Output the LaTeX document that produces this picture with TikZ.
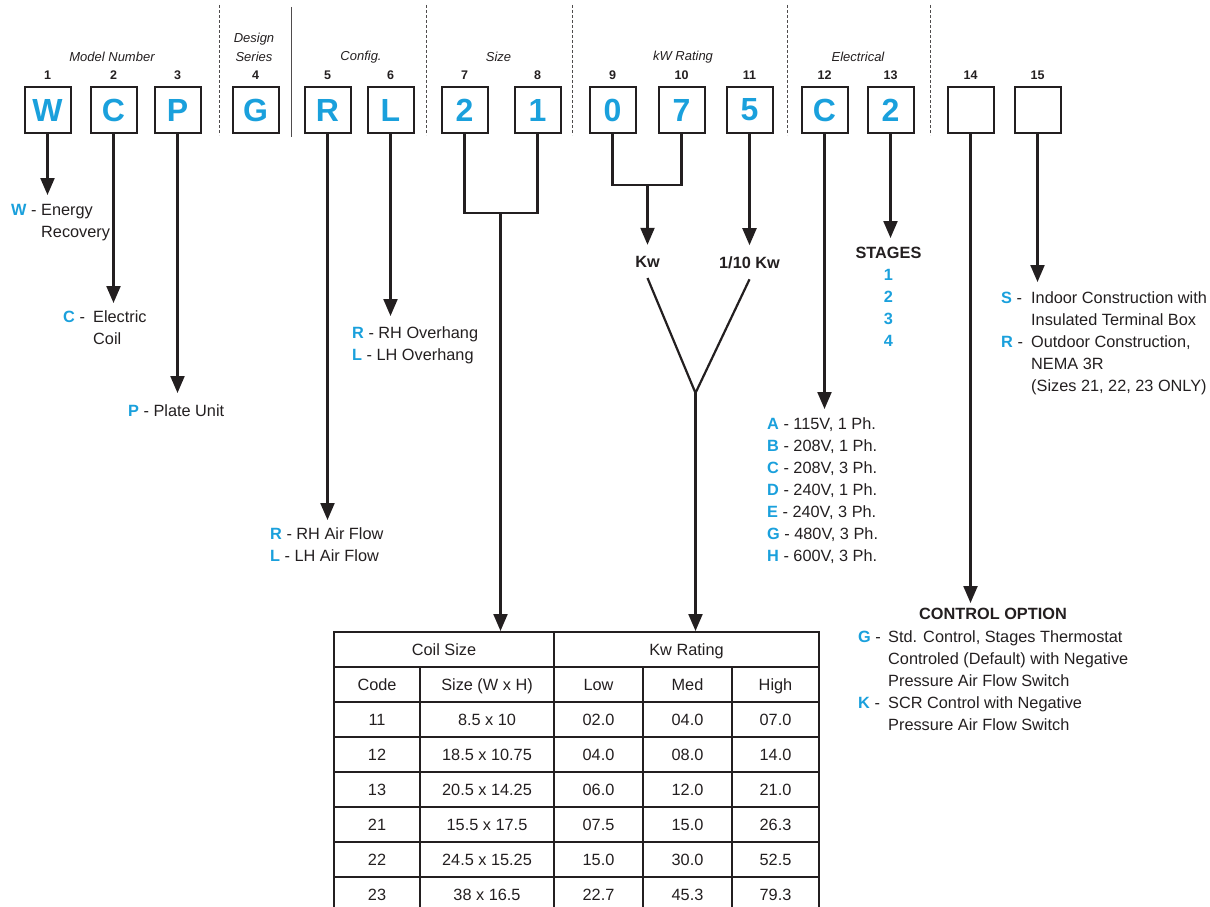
\documentclass[tikz,border=0pt]{standalone}
\usepackage{fontspec}
\setmainfont{Liberation Sans}
\usepackage{tikz}
\usetikzlibrary{arrows.meta}
\definecolor{wcpBlue}{HTML}{1AA0DC}
\definecolor{wcpInk}{HTML}{231F20}
\newcommand{\opt}[1]{\textcolor{wcpBlue}{\bfseries #1}}
\newcommand{\optkey}[1]{\makebox[30pt][l]{\opt{#1}\ -}}
\newcommand{\optpad}{\hspace*{30pt}}
\tikzset{
  codebox/.style={draw=wcpInk,line width=2pt,minimum size=46pt,inner sep=0pt,text=wcpBlue,
                  font=\fontsize{32}{32}\selectfont\bfseries},
  posnum/.style={font=\fontsize{12.5}{14}\selectfont\bfseries,text=wcpInk,inner sep=0pt},
  grplbl/.style={font=\fontsize{13}{19}\selectfont\itshape,text=wcpInk,align=center,inner sep=0pt},
  sepdash/.style={draw=wcpInk!80,line width=0.9pt,dash pattern=on 3pt off 2pt},
  sepline/.style={draw=wcpInk!80,line width=1pt},
  link/.style={draw=wcpInk,line width=2.2pt},
  flow/.style={link,-{Triangle[width=14pt,length=17pt]}},
  desc/.style={font=\fontsize{16.3}{22}\selectfont,text=wcpInk,inner sep=0pt,anchor=base west},
  head/.style={font=\fontsize{16.3}{22}\selectfont\bfseries,text=wcpInk,inner sep=0pt,anchor=base},
  ratelbl/.style={head,outer ysep=11pt},
  cell/.style={draw=wcpInk,line width=2pt,minimum height=35pt,inner sep=0pt,text height=12pt,
               text depth=0.5pt,font=\fontsize{16.3}{18}\selectfont,text=wcpInk},
}
\begin{document}
\begin{tikzpicture}[x=1pt,y=-1pt]
  \useasboundingbox (0,0) rectangle (1210,907);
  \clip (0,0) rectangle (1210,907);

  % code boxes and their positions
  \foreach \n/\x/\c in {1/47.5/W,2/113.5/C,3/177.5/P,4/255.5/G,5/327.5/R,6/390.5/L,7/464.5/2,8/537.5/1,
                        9/612.5/0,10/681.5/7,11/749.5/5,12/824.5/C,13/890.5/2,14/970.5/{},15/1037.5/{}}{
    \node[codebox] (b\n) at (\x,110) {\c};
    \node[posnum] (n\n) at (\x,75) {\n};
  }
  \node[grplbl] (gModel) at (112,57) {Model Number};
  \node[grplbl] (gSeries) at (254,47.5) {Design\\Series};
  \node[grplbl] (gConfig) at (361,57) {Config.};
  \node[grplbl] (gSize) at (498.5,57) {Size};
  \node[grplbl] (gRate) at (683,57) {kW Rating};
  \node[grplbl] (gElec) at (858,57) {Electrical};

  \foreach \x in {219,426,572,787,930}{\draw[sepdash] (\x,5) -- (\x,135);}
  \draw[sepline] (291,7) -- (291,137);

  % option texts
  \node[desc] (dW) at (11,215) {\begin{tabular}[t]{@{}l@{}}\optkey{W}Energy\\\optpad Recovery\end{tabular}};
  \node[desc] (dC) at (63,322) {\begin{tabular}[t]{@{}l@{}}\optkey{C}Electric\\\optpad Coil\end{tabular}};
  \node[desc] (dP) at (128,416) {\opt{P} - Plate Unit};
  \node[desc] (dAir) at (270,539) {\begin{tabular}[t]{@{}l@{}}\opt{R} - RH Air Flow\\\opt{L} - LH Air Flow\end{tabular}};
  \node[desc] (dOver) at (352,338) {\begin{tabular}[t]{@{}l@{}}\opt{R} - RH Overhang\\\opt{L} - LH Overhang\end{tabular}};
  \node[ratelbl] (kw) at (647.5,267) {Kw};
  \node[ratelbl] (tenth) at (749.5,268) {1/10 Kw};
  \node[desc] (dElec) at (767,429) {\begin{tabular}[t]{@{}l@{}}\opt{A} - 115V, 1 Ph.\\\opt{B} - 208V, 1 Ph.\\
        \opt{C} - 208V, 3 Ph.\\\opt{D} - 240V, 1 Ph.\\\opt{E} - 240V, 3 Ph.\\\opt{G} - 480V, 3 Ph.\\
        \opt{H} - 600V, 3 Ph.\end{tabular}};
  \node[head] (dStage) at (888.5,258) {\begin{tabular}[t]{@{}c@{}}STAGES\\\opt{1}\\\opt{2}\\\opt{3}\\\opt{4}\end{tabular}};
  \node[desc] (dMount) at (1001,303) {\begin{tabular}[t]{@{}l@{}}\optkey{S}Indoor Construction with\\
        \optpad Insulated Terminal Box\\\optkey{R}Outdoor Construction,\\\optpad NEMA 3R\\
        \optpad (Sizes 21, 22, 23 ONLY)\end{tabular}};
  \node[head] (ctlHead) at (993,619) {CONTROL OPTION};
  \node[desc] (dCtl) at (858,642) {\begin{tabular}[t]{@{}l@{}}\optkey{G}Std. Control, Stages Thermostat\\
        \optpad Controled (Default) with Negative\\\optpad Pressure Air Flow Switch\\
        \optkey{K}SCR Control with Negative\\\optpad Pressure Air Flow Switch\end{tabular}};

  % table
  \node[cell,minimum width=220pt] (hcoil) at (444,649.5) {Coil Size};
  \node[cell,minimum width=265pt] (hkw) at (686.5,649.5) {Kw Rating};
  \foreach \x/\w/\t/\nm in {377/86/Code/hcode,487/134/Size (W x H)/hsize,598.5/89/Low/hlow,
                            687.5/89/Med/hmed,775.5/87/High/hhigh}{
    \node[cell,minimum width=\w pt] (\nm) at (\x,684.5) {\t};
  }
  \foreach \y/\cd/\sz/\lo/\md/\hi in {719.5/11/8.5 x 10/02.0/04.0/07.0,754.5/12/18.5 x 10.75/04.0/08.0/14.0,
      789.5/13/20.5 x 14.25/06.0/12.0/21.0,824.5/21/15.5 x 17.5/07.5/15.0/26.3,
      859.5/22/24.5 x 15.25/15.0/30.0/52.5,894.5/23/38 x 16.5/22.7/45.3/79.3}{
    \node[cell,minimum width=86pt] (code\cd) at (377,\y) {\cd};
    \node[cell,minimum width=134pt] (size\cd) at (487,\y) {\sz};
    \node[cell,minimum width=89pt] (low\cd) at (598.5,\y) {\lo};
    \node[cell,minimum width=89pt] (med\cd) at (687.5,\y) {\md};
    \node[cell,minimum width=87pt] (high\cd) at (775.5,\y) {\hi};
  }

  % arrow ends
  \coordinate (tW) at (47.5,195);
  \coordinate (tC) at (113.5,303);
  \coordinate (tP) at (177.5,393);
  \coordinate (tAir) at (327.5,520);
  \coordinate (tOver) at (390.5,316);
  \coordinate (tElec) at (824.5,409);
  \coordinate (tStage) at (890.5,238);
  \coordinate (tCtl) at (970.5,603);
  \coordinate (tMount) at (1037.5,282);
  \coordinate (szbar) at (500.5,213);
  \coordinate (kwbar) at (647.5,185);
  \coordinate (vj) at (695.5,393);

  \foreach \a/\b in {b1/tW,b2/tC,b3/tP,b5/tAir,b6/tOver,b12/tElec,b13/tStage,b14/tCtl,b15/tMount}{
    \draw[flow] (\a.south) -- (\b);
  }
  \draw[link] (b7.south) |- (szbar) -| (b8.south);
  \draw[flow] (szbar) -- (szbar |- hcoil.north);
  \draw[link] (b9.south) |- (kwbar) -| (b10.south);
  \draw[flow] (kwbar) -- (kw.north);
  \draw[flow] (b11.south) -- (tenth.north);
  \draw[link] (kw.south) -- (vj) -- (tenth.south);
  \draw[flow] (vj) -- (vj |- hkw.north);
\end{tikzpicture}
\end{document}
